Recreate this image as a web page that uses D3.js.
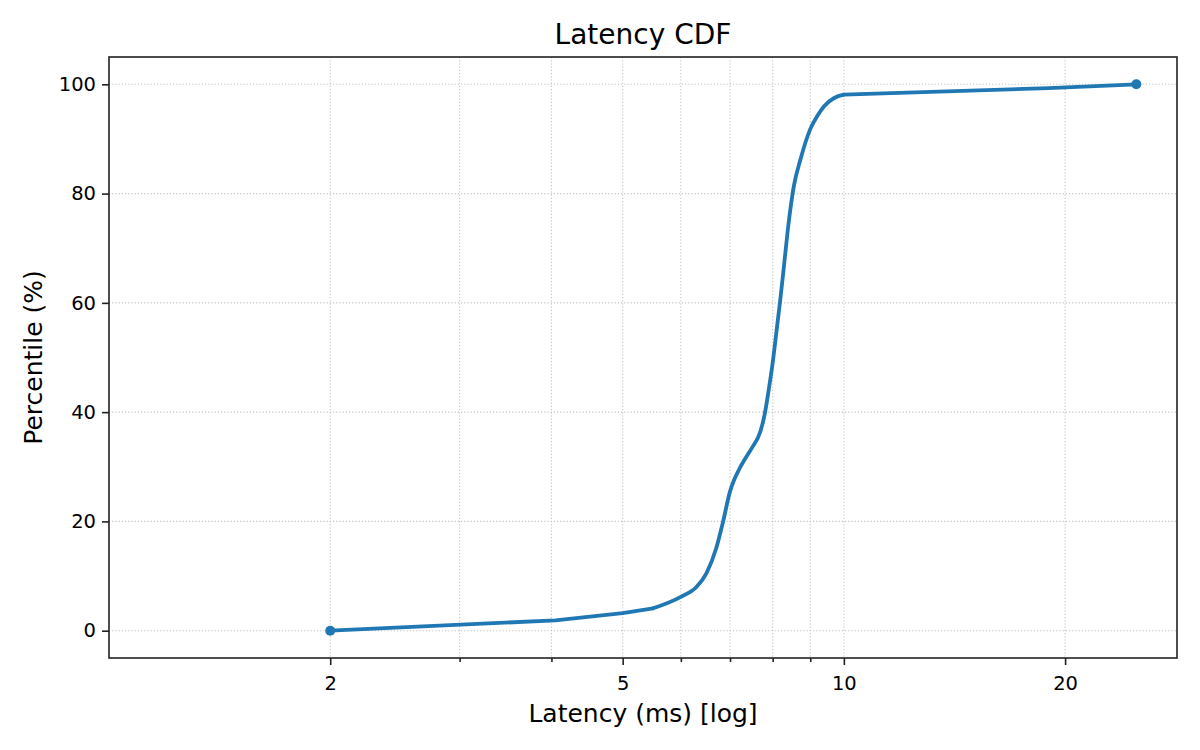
<!DOCTYPE html>
<html>
<head>
<meta charset="utf-8">
<script src="https://cdn.jsdelivr.net/npm/d3@7"></script>
<style>
  body { margin: 0; background: #fff; }
  text { font-family: "DejaVu Sans", sans-serif; fill: #000; }
</style>
</head>
<body>
<script>
// latency values (ms) and the percentile reached at each one
var latency = [2, 4.05, 5, 5.5, 6.0, 6.3, 6.5, 6.7, 6.85, 7.0, 7.1, 7.2, 7.35, 7.5, 7.7, 7.8, 7.9, 8.0, 8.1, 8.2, 8.3, 8.4, 8.55, 8.73, 9.0, 9.2, 9.4, 9.7, 10, 19, 25];
var percentile = [0, 1.9, 3.2, 4.1, 6.2, 8, 10.5, 15, 20, 25.5, 27.8, 29.5, 31.6, 33.5, 36.5, 39.5, 44, 49, 55, 61, 67.5, 74, 81.4, 86.3, 91.8, 94.2, 96, 97.5, 98.1, 99.3, 100];
var xMajorTicks = [2, 5, 10, 20];
var xMinorTicks = [3, 4, 6, 7, 8, 9];
var yTicks = [0, 20, 40, 60, 80, 100];

var width = 1200, height = 750;
var plotLeft = 109, plotRight = 1177, plotTop = 57, plotBottom = 658;

var svg = d3.select("body")
  .append("svg")
  .attr("width", width)
  .attr("height", height);

var x = d3.scaleLog().domain([1.0, 28.4]).range([plotLeft, plotRight]);
var y = d3.scaleLinear().domain([-5, 105]).range([plotBottom, plotTop]);

// grid lines, dotted
var grid = svg.append("g")
  .attr("stroke", "#c4c4c4")
  .attr("stroke-width", 1.1)
  .attr("stroke-dasharray", "1.2,2");

grid.selectAll(".gx")
  .data(xMajorTicks.concat(xMinorTicks))
  .enter().append("line")
  .attr("x1", function(d) { return x(d); })
  .attr("x2", function(d) { return x(d); })
  .attr("y1", plotTop)
  .attr("y2", plotBottom);

grid.selectAll(".gy")
  .data(yTicks)
  .enter().append("line")
  .attr("x1", plotLeft)
  .attr("x2", plotRight)
  .attr("y1", function(d) { return y(d); })
  .attr("y2", function(d) { return y(d); });

// axes
var xAxis = svg.append("g")
  .attr("transform", "translate(0," + plotBottom + ")")
  .call(d3.axisBottom(x).tickValues(xMajorTicks).tickFormat(d3.format("d")).tickSizeOuter(0).tickSize(7).tickPadding(6));

svg.append("g")
  .attr("transform", "translate(0," + plotBottom + ")")
  .call(d3.axisBottom(x).tickValues(xMinorTicks).tickFormat("").tickSizeOuter(0).tickSize(4))
  .call(function(g) { g.select(".domain").remove(); });

var yAxis = svg.append("g")
  .attr("transform", "translate(" + plotLeft + ",0)")
  .call(d3.axisLeft(y).tickValues(yTicks).tickSizeOuter(0).tickSize(7).tickPadding(6));

svg.selectAll(".tick line").attr("stroke", "#222").attr("stroke-width", 1.6);
svg.selectAll(".domain").remove();
svg.selectAll(".tick text").style("font-size", "19.5px").attr("fill", "#000");
xAxis.selectAll(".tick text").attr("dy", "0.95em");

// frame
svg.append("rect")
  .attr("x", plotLeft)
  .attr("y", plotTop)
  .attr("width", plotRight - plotLeft)
  .attr("height", plotBottom - plotTop)
  .attr("fill", "none")
  .attr("stroke", "#222")
  .attr("stroke-width", 1.6);

// the CDF line: straight tails, smooth middle
var pts = latency.map(function(d, i) { return [d, percentile[i]]; });
var i0 = latency.indexOf(5.5), i1 = latency.indexOf(10);

var lineStraight = d3.line()
  .x(function(d) { return x(d[0]); })
  .y(function(d) { return y(d[1]); });
var lineSmooth = d3.line()
  .x(function(d) { return x(d[0]); })
  .y(function(d) { return y(d[1]); })
  .curve(d3.curveMonotoneX);

var pieces = [
  { d: pts.slice(0, i0 + 1), gen: lineStraight },
  { d: pts.slice(i0, i1 + 1), gen: lineSmooth },
  { d: pts.slice(i1), gen: lineStraight }
];

svg.selectAll(".cdf")
  .data(pieces)
  .enter().append("path")
  .attr("fill", "none")
  .attr("stroke", "#1f77b4")
  .attr("stroke-width", 3.8)
  .attr("stroke-linejoin", "round")
  .attr("stroke-linecap", "round")
  .attr("d", function(p) { return p.gen(p.d); });

// markers at the two ends
svg.selectAll(".end")
  .data([pts[0], pts[pts.length - 1]])
  .enter().append("circle")
  .attr("cx", function(d) { return x(d[0]); })
  .attr("cy", function(d) { return y(d[1]); })
  .attr("r", 5)
  .attr("fill", "#1f77b4");

// title and labels
svg.append("text")
  .attr("x", (plotLeft + plotRight) / 2)
  .attr("y", 44)
  .attr("text-anchor", "middle")
  .style("font-size", "28px")
  .text("Latency CDF");

svg.append("text")
  .attr("x", (plotLeft + plotRight) / 2)
  .attr("y", 722)
  .attr("text-anchor", "middle")
  .style("font-size", "25px")
  .text("Latency (ms) [log]");

svg.append("text")
  .attr("transform", "translate(42," + (plotTop + plotBottom) / 2 + ") rotate(-90)")
  .attr("text-anchor", "middle")
  .style("font-size", "25px")
  .text("Percentile (%)");
</script>
</body>
</html>
